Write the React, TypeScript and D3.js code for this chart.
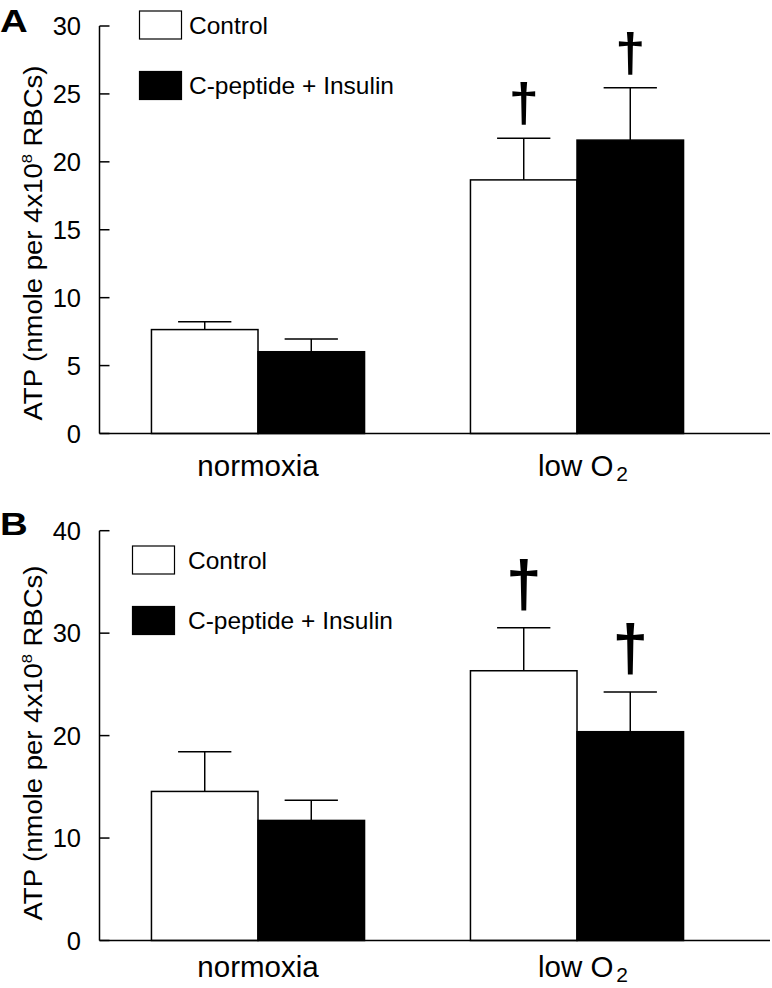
import React from "react";
import * as d3 from "d3";

const categories = ["normoxia", "low O2"];
const series = ["Control", "C-peptide + Insulin"];

// Panel A
const aControl = [7.65, 18.67];
const aControlErr = [0.58, 3.07];
const aCpep = [6.02, 21.6];
const aCpepErr = [0.94, 3.86];
const aDagger = [false, true];
const aTicks = [0, 5, 10, 15, 20, 25, 30];

// Panel B
const bControl = [14.55, 26.33];
const bControlErr = [3.88, 4.2];
const bCpep = [11.72, 20.38];
const bCpepErr = [1.97, 3.88];
const bDagger = [false, true];
const bTicks = [0, 10, 20, 30, 40];

const FONT = "'Liberation Sans', Arial, Helvetica, sans-serif";

type PanelProps = {
  letter: string;
  control: number[];
  controlErr: number[];
  cpep: number[];
  cpepErr: number[];
  dagger: boolean[];
  ticks: number[];
  yMax: number;
  yTop: number;
  yBottom: number;
  legendX: number;
  legendY: number;
  textX: number;
  daggerSize: number;
  daggerGap: number;
  letterY: number;
  catOffset: number;
  labelCenterY: number;
};

function Panel(p: PanelProps) {
  const axisX = 99.5;
  const y = d3.scaleLinear().domain([0, p.yMax]).range([p.yBottom, p.yTop]);
  const x0 = d3
    .scaleBand<string>()
    .domain(categories)
    .range([98.5, 736.5])
    .paddingInner(0.332)
    .paddingOuter(0.166);
  const x1 = d3.scaleBand<string>().domain(series).range([0, x0.bandwidth()]);
  const vals = [p.control, p.cpep];
  const errs = [p.controlErr, p.cpepErr];
  const fills = ["#ffffff", "#000000"];

  return (
    <g fontFamily={FONT}>
      <text
        transform={`translate(0,${p.letterY}) scale(1.2,1)`}
        fontSize={32}
        fontWeight="bold"
        fill="#000"
      >
        {p.letter}
      </text>
      {/* y axis */}
      <line x1={axisX} x2={axisX} y1={p.yTop} y2={p.yBottom} stroke="#000" strokeWidth={1.5} />
      {p.ticks.map((t) => (
        <g key={t}>
          <line x1={axisX} x2={axisX + 10} y1={y(t)} y2={y(t)} stroke="#000" strokeWidth={1.5} />
          <text x={81} y={y(t)} dy="0.36em" textAnchor="end" fontSize={25.5} fill="#000">
            {t}
          </text>
        </g>
      ))}
      <text
        transform={`translate(42,${p.labelCenterY}) rotate(-90) scale(1.1,1)`}
        textAnchor="middle"
        fontSize={25}
        fill="#000"
      >
        ATP (nmole per 4x10
        <tspan fontSize={15} dy={-10}>8</tspan>
        <tspan dy={10}> RBCs)</tspan>
      </text>
      {/* bars */}
      {categories.map((c, ci) => (
        <g key={c}>
          {series.map((s, si) => {
            const bx = (x0(c) as number) + (x1(s) as number);
            const bw = x1.bandwidth();
            const v = vals[si][ci];
            const e = errs[si][ci];
            const cx = bx + bw / 2;
            const capW = bw / 2;
            return (
              <g key={s}>
                <line x1={cx} x2={cx} y1={y(v)} y2={y(v + e)} stroke="#000" strokeWidth={1.5} />
                <line x1={cx - capW / 2} x2={cx + capW / 2} y1={y(v + e)} y2={y(v + e)} stroke="#000" strokeWidth={1.5} />
                <rect x={bx} y={y(v)} width={bw} height={y(0) - y(v)} fill={fills[si]} stroke="#000" strokeWidth={1.5} />
                {p.dagger[ci] && (
                  <text
                    x={cx}
                    y={y(v + e) - p.daggerGap}
                    textAnchor="middle"
                    fontSize={p.daggerSize}
                    fontWeight="bold"
                    fill="#000"
                  >
                    †
                  </text>
                )}
              </g>
            );
          })}
        </g>
      ))}
      {/* x axis */}
      <line x1={axisX} x2={770} y1={p.yBottom} y2={p.yBottom} stroke="#000" strokeWidth={1.5} />
      <text x={(x0("normoxia") as number) + x0.bandwidth() / 2} y={p.yBottom + p.catOffset} textAnchor="middle" fontSize={29.5} fill="#000">
        normoxia
      </text>
      <text x={(x0("low O2") as number) + x0.bandwidth() / 2 + 6} y={p.yBottom + p.catOffset} textAnchor="middle" fontSize={29.5} fill="#000">
        low O<tspan fontSize={21} dx={3} dy={5}>2</tspan>
      </text>
      {/* legend */}
      {series.map((s, si) => (
        <g key={s}>
          <rect x={p.legendX} y={p.legendY + si * 60.5} width={42} height={28} fill={fills[si]} stroke="#000" strokeWidth={1.2} />
          <text x={p.textX} y={p.legendY + si * 60.5 + 14} dy="0.36em" fontSize={24.5} fill="#000">
            {s}
          </text>
        </g>
      ))}
    </g>
  );
}

export default function App() {
  return (
    <svg width={772} height={988} style={{ position: "absolute", left: 0, top: 0, background: "#fff" }}>
      <rect width={772} height={988} fill="#fff" />
      <Panel
        letter="A"
        control={aControl}
        controlErr={aControlErr}
        cpep={aCpep}
        cpepErr={aCpepErr}
        dagger={aDagger}
        ticks={aTicks}
        yMax={30}
        yTop={26}
        yBottom={433.5}
        legendX={139.5}
        legendY={11}
        textX={189}
        daggerSize={54}
        daggerGap={17}
        letterY={32}
        catOffset={42}
        labelCenterY={243}
      />
      <Panel
        letter="B"
        control={bControl}
        controlErr={bControlErr}
        cpep={bCpep}
        cpepErr={bCpepErr}
        dagger={bDagger}
        ticks={bTicks}
        yMax={40}
        yTop={530.7}
        yBottom={940.5}
        legendX={132.5}
        legendY={546}
        textX={188}
        daggerSize={64}
        daggerGap={22}
        letterY={535}
        catOffset={36}
        labelCenterY={743}
      />
    </svg>
  );
}
